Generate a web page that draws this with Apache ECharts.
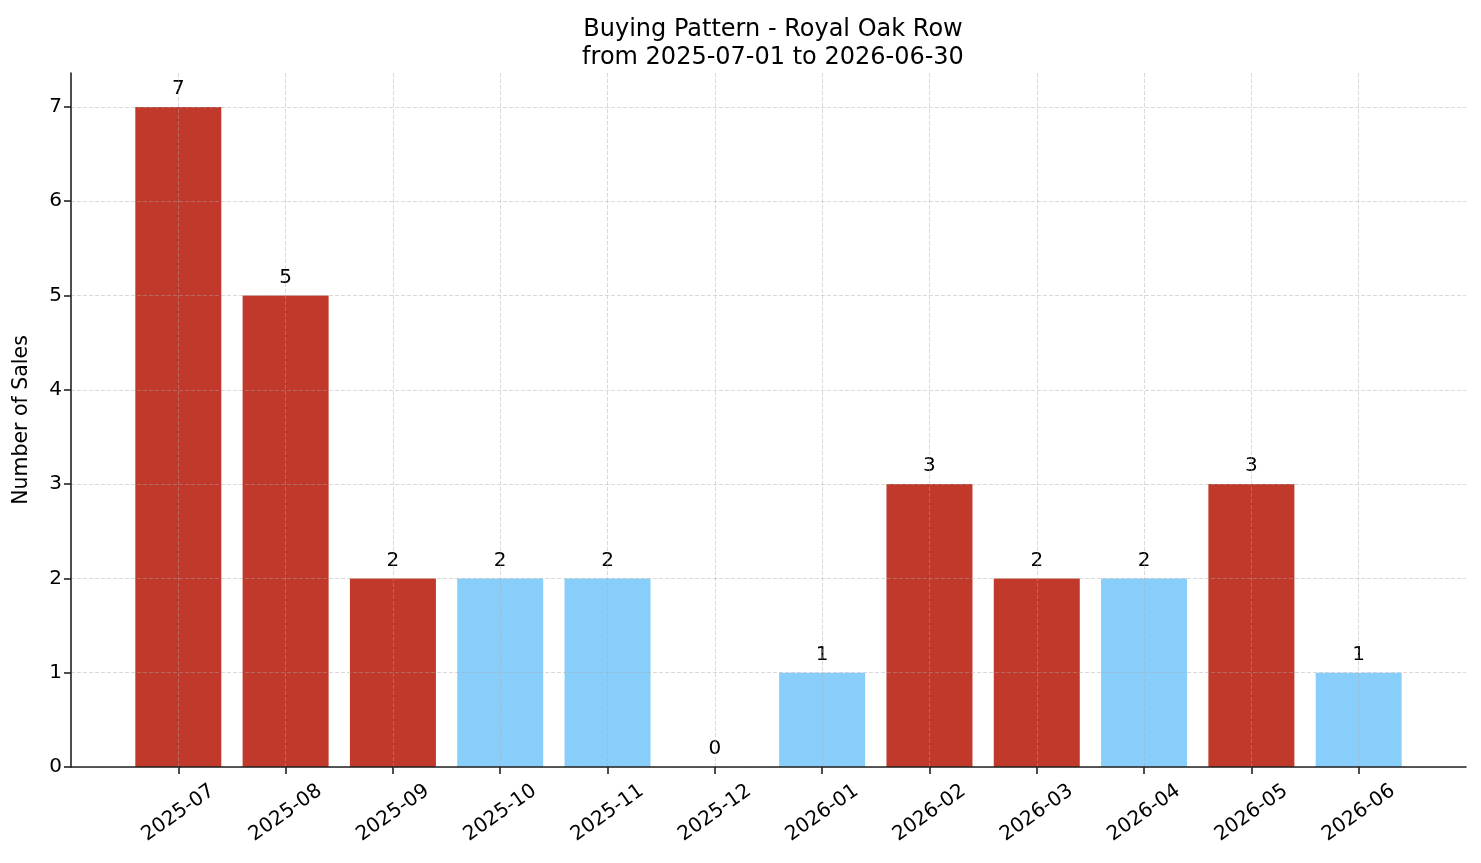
<!DOCTYPE html>
<html>
<head>
<meta charset="utf-8">
<script src="https://cdn.jsdelivr.net/npm/echarts@6/dist/echarts.min.js"></script>
<style>
  html, body { margin: 0; padding: 0; background: #fff; }
  #chart { width: 1481px; height: 863px; }
</style>
</head>
<body>
<div id="chart"></div>
<script>
const MONTHS = ["2025-07", "2025-08", "2025-09", "2025-10", "2025-11", "2025-12",
  "2026-01", "2026-02", "2026-03", "2026-04", "2026-05", "2026-06"];
const SALES = [7, 5, 2, 2, 2, 0, 1, 3, 2, 2, 3, 1];
const GROUP = ["hot", "hot", "hot", "cool", "cool", "cool", "cool", "hot", "hot", "cool", "hot", "cool"];
const Y_TICKS = [0, 1, 2, 3, 4, 5, 6, 7];

const RED = "#c0392b";
const BLUE = "#87cefa";
const AXIS = "#222222";
const GRID = "rgba(170, 170, 170, 0.55)";
const FONT = "DejaVu Sans";

const xIdx = MONTHS.map((_, i) => i);
const gridLine = { show: true, lineStyle: { color: GRID, width: 0.8, type: [4, 2] } };

const chart = echarts.init(document.getElementById("chart"), null, { renderer: "canvas" });
chart.setOption({
  animation: false,
  textStyle: { fontFamily: FONT },
  title: {
    text: "Buying Pattern - Royal Oak Row\nfrom 2025-07-01 to 2026-06-30",
    left: 768,
    top: 11,
    textAlign: "center",
    textStyle: { fontFamily: FONT, fontSize: 24, fontWeight: "normal", color: "#000", lineHeight: 28 },
  },
  grid: { left: 71, right: 15, top: 73, bottom: 96, containLabel: false, outerBoundsMode: "none" },
  xAxis: {
    type: "value",
    min: -1,
    max: 12,
    interval: 1,
    z: 5,
    axisLine: { show: true, onZero: false, lineStyle: { color: AXIS, width: 1.6 } },
    axisTick: { show: true, customValues: xIdx, length: 7, lineStyle: { color: AXIS, width: 1.6 } },
    axisLabel: {
      customValues: xIdx,
      formatter: (v) => MONTHS[v] ?? "",
      rotate: 35,
      align: "center",
      verticalAlign: "middle",
      margin: 46,
      color: "#000",
      fontFamily: FONT,
      fontSize: 20,
    },
    splitLine: gridLine,
  },
  yAxis: {
    type: "value",
    min: 0,
    max: 7.36,
    interval: 1,
    z: 5,
    name: "Number of Sales",
    nameLocation: "middle",
    nameGap: 39,
    nameTextStyle: { color: "#000", fontFamily: FONT, fontSize: 20.5 },
    axisLine: { show: true, onZero: false, lineStyle: { color: AXIS, width: 1.6 } },
    axisTick: { show: true, customValues: Y_TICKS, length: 7, lineStyle: { color: AXIS, width: 1.6 } },
    axisLabel: { customValues: Y_TICKS, color: "#000", fontFamily: FONT, fontSize: 20, margin: 9 },
    splitLine: gridLine,
  },
  series: [
    {
      type: "bar",
      barWidth: 86,
      data: SALES.map((v, i) => ({
        value: [i, v],
        itemStyle: { color: GROUP[i] === "hot" ? RED : BLUE },
      })),
      label: {
        show: true,
        position: "top",
        distance: 8,
        formatter: (p) => String(p.value[1]),
        color: "#000",
        fontFamily: FONT,
        fontSize: 20,
      },
    },
  ],
});
</script>
</body>
</html>
